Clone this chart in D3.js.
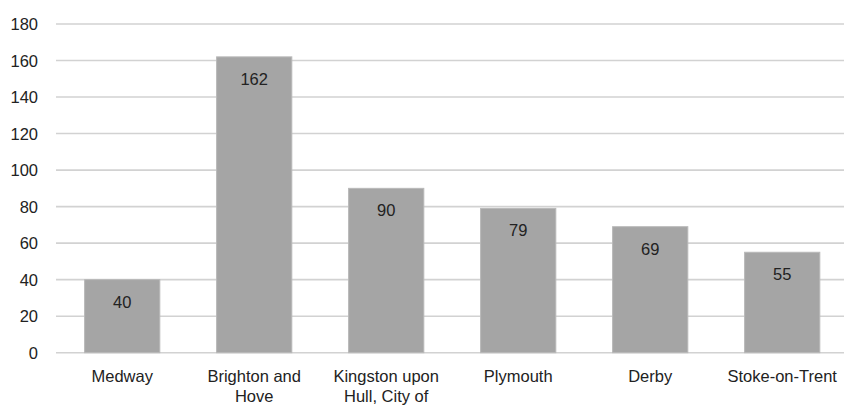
<!DOCTYPE html>
<html>
<head>
<meta charset="utf-8">
<script src="https://cdn.jsdelivr.net/npm/d3@7/dist/d3.min.js"></script>
<style>
  html, body { margin: 0; padding: 0; background: #fff; }
  svg { display: block; }
  text { font-family: "Liberation Sans", Arial, sans-serif; fill: #222; }
</style>
</head>
<body>
<svg id="chart" width="844" height="409"></svg>
<script>
// Local authorities and their counts
const categories = [
  ["Medway"],
  ["Brighton and", "Hove"],
  ["Kingston upon", "Hull, City of"],
  ["Plymouth"],
  ["Derby"],
  ["Stoke-on-Trent"]
];
const values = [40, 162, 90, 79, 69, 55];
const yTicks = [0, 20, 40, 60, 80, 100, 120, 140, 160, 180];

const svg = d3.select("#chart");
const W = 844;

const x = d3.scaleBand()
  .domain(d3.range(categories.length))
  .range([56.2, 848.2])
  .paddingInner(0.43)
  .paddingOuter(0.215);

const y = d3.scaleLinear()
  .domain([0, 180])
  .range([352.7, 24]);

// Horizontal gridlines
svg.append("g")
  .selectAll("line")
  .data(yTicks)
  .join("line")
  .attr("x1", 56)
  .attr("x2", W)
  .attr("y1", d => y(d))
  .attr("y2", d => y(d))
  .attr("stroke", "#d2d2d2")
  .attr("stroke-width", 1.6);

// Y axis labels
const yAxis = d3.axisLeft(y).tickValues(yTicks).tickSize(0).tickPadding(0);
const yg = svg.append("g").attr("transform", "translate(38,0)").call(yAxis);
yg.select(".domain").remove();
yg.selectAll("text")
  .attr("font-size", "16.5px")
  .attr("font-family", "Liberation Sans, Arial, sans-serif")
  .attr("fill", "#222")
  .attr("dy", "0.35em");

// Bars
svg.append("g")
  .selectAll("rect")
  .data(values)
  .join("rect")
  .attr("x", (d, i) => x(i))
  .attr("width", x.bandwidth())
  .attr("y", d => y(d))
  .attr("height", d => y(0) - y(d))
  .attr("fill", "#a5a5a5")
  .attr("stroke", "#b9b9b9")
  .attr("stroke-width", 1);

// Value labels inside bars
svg.append("g")
  .selectAll("text")
  .data(values)
  .join("text")
  .attr("x", (d, i) => x(i) + x.bandwidth() / 2)
  .attr("y", d => y(d) + 28)
  .attr("text-anchor", "middle")
  .attr("font-size", "16.5px")
  .text(d => d);

// Category labels (wrapped)
const xg = svg.append("g");
categories.forEach((lines, i) => {
  const t = xg.append("text")
    .attr("x", x(i) + x.bandwidth() / 2)
    .attr("y", 382)
    .attr("text-anchor", "middle")
    .attr("font-size", "16.5px");
  lines.forEach((ln, j) => {
    t.append("tspan")
      .attr("x", x(i) + x.bandwidth() / 2)
      .attr("dy", j === 0 ? 0 : 20)
      .text(ln);
  });
});
</script>
</body>
</html>
